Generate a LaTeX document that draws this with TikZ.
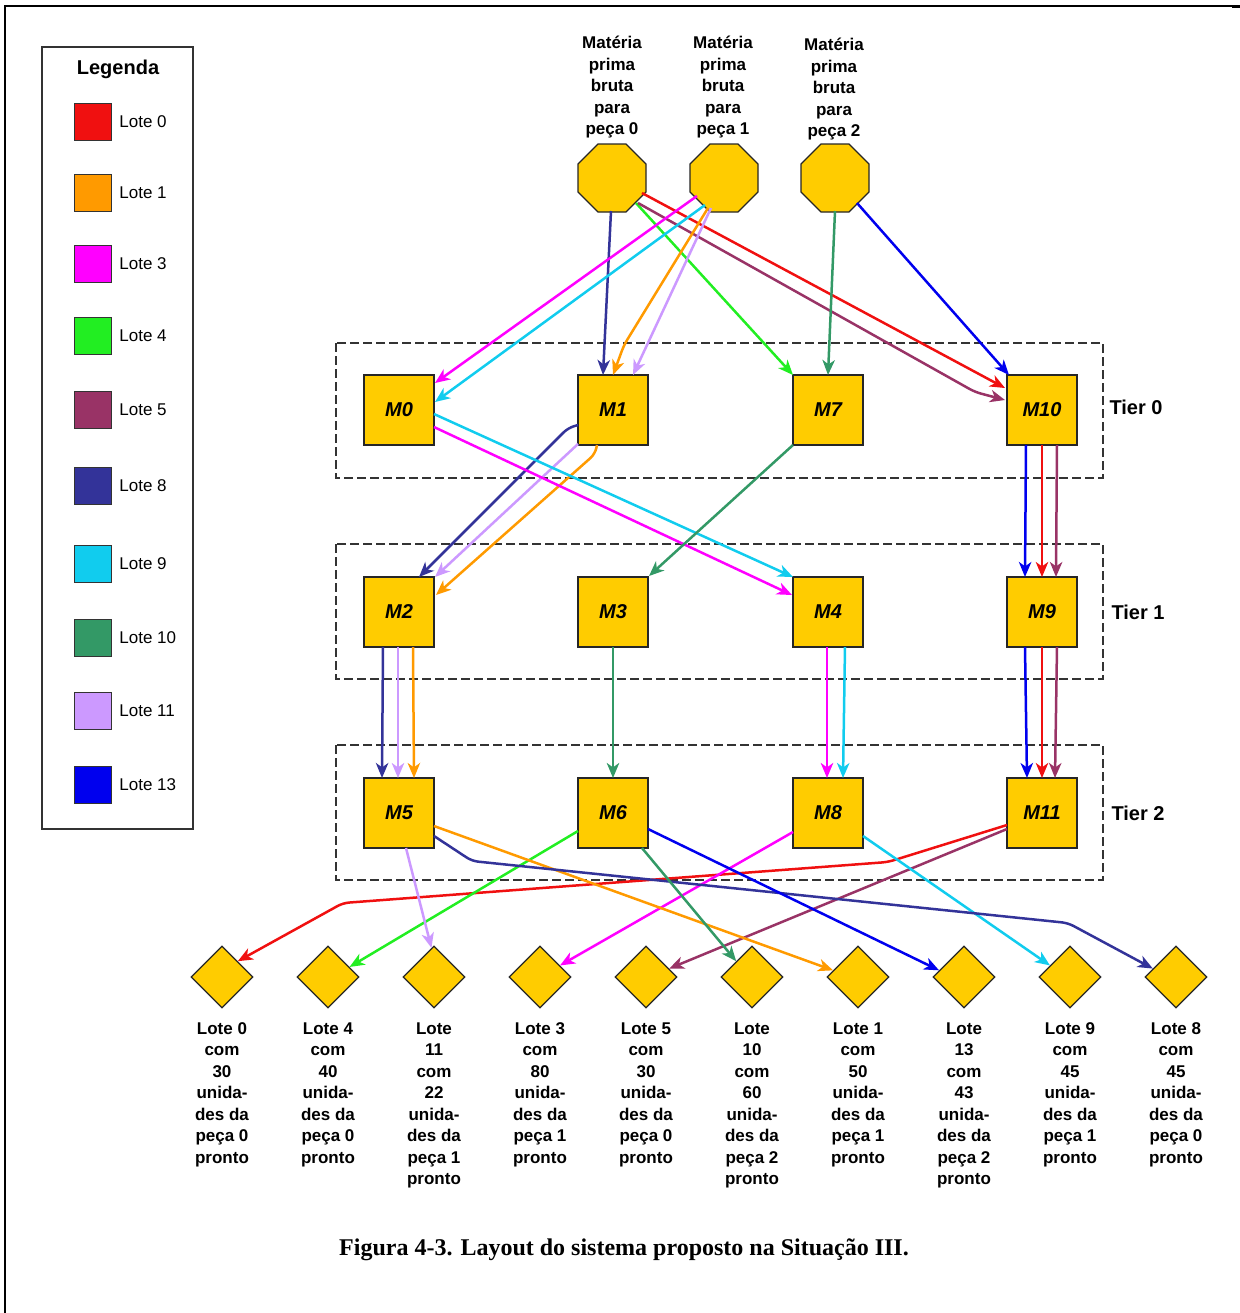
\documentclass[tikz,border=0pt]{standalone}
\usepackage{fontspec}
\setmainfont{Liberation Sans}
\newfontfamily\capfont{Liberation Serif}
\usetikzlibrary{shapes.geometric,arrows.meta,calc}

\definecolor{gold}{HTML}{FFCC00}
\definecolor{lzero}{HTML}{F01010}
\definecolor{lone}{HTML}{FF9A00}
\definecolor{lthree}{HTML}{FF00FF}
\definecolor{lfour}{HTML}{22EE22}
\definecolor{lfive}{HTML}{993366}
\definecolor{leight}{HTML}{333399}
\definecolor{lnine}{HTML}{11CCEE}
\definecolor{lten}{HTML}{339966}
\definecolor{leleven}{HTML}{CC99FF}
\definecolor{lthirteen}{HTML}{0000EE}

\begin{document}
\begin{tikzpicture}[x=0.5pt,y=-0.5pt,
  machine/.style={draw=black!85, line width=0.6pt, fill=gold, minimum size=35pt,
    inner sep=0pt, font=\fontsize{10}{12}\selectfont\bfseries\itshape},
  source/.style={draw=black!85, line width=0.6pt, fill=gold, regular polygon,
    regular polygon sides=8, minimum size=36.8pt, inner sep=0pt},
  sink/.style={draw=black!85, line width=0.6pt, fill=gold, diamond, aspect=1,
    minimum width=31pt, minimum height=31pt, inner sep=0pt},
  srclabel/.style={anchor=south, align=center, inner sep=0pt,
    font=\fontsize{8.5}{10.75}\selectfont\bfseries},
  sinklabel/.style={anchor=north, align=center, inner sep=0pt,
    font=\fontsize{8.5}{10.75}\selectfont\bfseries},
  tierbox/.style={draw=black!80, line width=0.65pt, dash pattern=on 4.5pt off 2pt},
  tierlabel/.style={font=\fontsize{10}{12}\selectfont\bfseries, inner sep=0pt},
  swatch/.style={draw=black!80, line width=0.5pt, minimum size=18.5pt, inner sep=0pt},
  legtext/.style={anchor=west, inner sep=0pt, font=\fontsize{8.5}{10}\selectfont},
  arr/.style={line width=1.25pt, rounded corners=3pt,
    -{Stealth[length=7.5pt,width=6.2pt,inset=2.2pt]}},
  c0/.style={arr, draw=lzero},
  c1/.style={arr, draw=lone},
  c3/.style={arr, draw=lthree},
  c4/.style={arr, draw=lfour},
  c5/.style={arr, draw=lfive},
  c8/.style={arr, draw=leight},
  c9/.style={arr, draw=lnine},
  c10/.style={arr, draw=lten},
  c11/.style={arr, draw=leleven},
  c13/.style={arr, draw=lthirteen}]

\useasboundingbox (0,0) rectangle (1240,1313);

% page frame
\draw[line width=0.7pt] (4,6) -- (1240,6);
\draw[line width=1.5pt] (1232,6) -- (1240,6);
\draw[line width=1.2pt] (5,5) -- (5,1313);

% legend
\draw[draw=black!80, line width=0.75pt] (42,47) rectangle (193,829);
\node[font=\fontsize{10}{12}\selectfont\bfseries] (legtitle) at (118,69) {Legenda};
\foreach \c/\y/\t in {lzero/121.5/Lote 0, lone/193/Lote 1, lthree/264/Lote 3,
  lfour/336/Lote 4, lfive/410/Lote 5, leight/486/Lote 8, lnine/564/Lote 9,
  lten/638/Lote 10, leleven/711/Lote 11, lthirteen/785/Lote 13}{
  \node[swatch, fill=\c] at (92.5,\y) {};
  \node[legtext] at (119,\y) {\t};
}

% tiers
\draw[tierbox] (336,343) rectangle (1103,478);
\draw[tierbox] (336,544) rectangle (1103,679);
\draw[tierbox] (336,745) rectangle (1103,880);
\node[tierlabel] (t0) at (1136,407) {Tier 0};
\node[tierlabel] (t1) at (1138,612) {Tier 1};
\node[tierlabel] (t2) at (1138,813) {Tier 2};

% raw material sources
\node[source] (P0) at (612,178) {};
\node[source] (P1) at (724,178) {};
\node[source] (P2) at (835,178) {};
\node[srclabel] at (612,138.6) {Matéria\\prima\\bruta\\para\\peça 0};
\node[srclabel] at (723,138.6) {Matéria\\prima\\bruta\\para\\peça 1};
\node[srclabel] at (834,140.6) {Matéria\\prima\\bruta\\para\\peça 2};

% machines
\node[machine] (M0) at (399,410) {M0};
\node[machine] (M1) at (613,410) {M1};
\node[machine] (M7) at (828,410) {M7};
\node[machine] (M10) at (1042,410) {M10};
\node[machine] (M2) at (399,612) {M2};
\node[machine] (M3) at (613,612) {M3};
\node[machine] (M4) at (828,612) {M4};
\node[machine] (M9) at (1042,612) {M9};
\node[machine] (M5) at (399,813) {M5};
\node[machine] (M6) at (613,813) {M6};
\node[machine] (M8) at (828,813) {M8};
\node[machine] (M11) at (1042,813) {M11};

% finished lots
\node[sink] (D1) at (222,977) {};
\node[sink] (D2) at (328,977) {};
\node[sink] (D3) at (434,977) {};
\node[sink] (D4) at (540,977) {};
\node[sink] (D5) at (646,977) {};
\node[sink] (D6) at (752,977) {};
\node[sink] (D7) at (858,977) {};
\node[sink] (D8) at (964,977) {};
\node[sink] (D9) at (1070,977) {};
\node[sink] (D10) at (1176,977) {};
\node[sinklabel] at (222,1022) {Lote 0\\com\\30\\unida-\\des da\\peça 0\\pronto};
\node[sinklabel] at (328,1022) {Lote 4\\com\\40\\unida-\\des da\\peça 0\\pronto};
\node[sinklabel] at (434,1022) {Lote\\11\\com\\22\\unida-\\des da\\peça 1\\pronto};
\node[sinklabel] at (540,1022) {Lote 3\\com\\80\\unida-\\des da\\peça 1\\pronto};
\node[sinklabel] at (646,1022) {Lote 5\\com\\30\\unida-\\des da\\peça 0\\pronto};
\node[sinklabel] at (752,1022) {Lote\\10\\com\\60\\unida-\\des da\\peça 2\\pronto};
\node[sinklabel] at (858,1022) {Lote 1\\com\\50\\unida-\\des da\\peça 1\\pronto};
\node[sinklabel] at (964,1022) {Lote\\13\\com\\43\\unida-\\des da\\peça 2\\pronto};
\node[sinklabel] at (1070,1022) {Lote 9\\com\\45\\unida-\\des da\\peça 1\\pronto};
\node[sinklabel] at (1176,1022) {Lote 8\\com\\45\\unida-\\des da\\peça 0\\pronto};

% sources -> tier 0
\draw[c8] ($(P0)+(-1,33)$) -- ($(M1)+(-10,-35)$);
\draw[c4] ($(P0)+(24,25)$) -- ($(M7)+(-35,-35)$);
\draw[c0] ($(P0)+(30,15)$) -- ($(M10)+(-37,-22)$);
\draw[c5] ($(P0)+(26,25)$) -- ($(M10)+(-67,-18)$) -- ($(M10)+(-37,-10)$);
\draw[c3] ($(P1)+(-27,18)$) -- ($(M0)+(36,-27)$);
\draw[c9] ($(P1)+(-19,27)$) -- ($(M0)+(36,-8)$);
\draw[c1] ($(P1)+(-16,30)$) -- ($(M1)+(11,-65)$) -- ($(M1)+(0,-35)$);
\draw[c11] ($(P1)+(-13,30)$) -- ($(M1)+(20,-35)$);
\draw[c10] ($(P2)+(0,33)$) -- ($(M7)+(0,-35)$);
\draw[c13] ($(P2)+(22,25)$) -- ($(M10)+(-33,-35)$);

% tier 0 -> tier 1
\draw[c8] ($(M1)+(-35,15)$) -- ($(M1)+(-45,18)$) -- ($(M2)+(20,-35)$);
\draw[c11] ($(M1)+(-35,34)$) -- ($(M2)+(36,-35)$);
\draw[c1] ($(M1)+(-16,35)$) -- ($(M1)+(-18,44)$) -- ($(M2)+(37,-17)$);
\draw[c3] ($(M0)+(35,17)$) -- ($(M4)+(-36,-17)$);
\draw[c9] ($(M0)+(35,4)$) -- ($(M4)+(-35,-35)$);
\draw[c10] ($(M7)+(-35,35)$) -- ($(M3)+(36,-36)$);
\draw[c13] ($(M10)+(-16,35)$) -- ($(M9)+(-17,-35)$);
\draw[c0] ($(M10)+(0,35)$) -- ($(M9)+(0,-35)$);
\draw[c5] ($(M10)+(15,35)$) -- ($(M9)+(14,-35)$);

% tier 1 -> tier 2
\draw[c8] ($(M2)+(-16,35)$) -- ($(M5)+(-17,-35)$);
\draw[c11] ($(M2)+(-1,35)$) -- ($(M5)+(-1,-35)$);
\draw[c1] ($(M2)+(14,35)$) -- ($(M5)+(15,-35)$);
\draw[c10] ($(M3)+(0,35)$) -- ($(M6)+(0,-35)$);
\draw[c3] ($(M4)+(-1,35)$) -- ($(M8)+(-1,-35)$);
\draw[c9] ($(M4)+(17,35)$) -- ($(M8)+(15,-35)$);
\draw[c13] ($(M9)+(-17,35)$) -- ($(M11)+(-15,-35)$);
\draw[c0] ($(M9)+(0,35)$) -- ($(M11)+(0,-35)$);
\draw[c5] ($(M9)+(15,35)$) -- ($(M11)+(13,-35)$);

% tier 2 -> finished lots
\draw[c0] ($(M11)+(-35,12)$) -- ($(M11)+(-154,49)$) -- ($(D1)+(121,-74)$) -- (D1.north east);
\draw[c5] ($(M11)+(-35,16)$) -- (D5.20);
\draw[c3] ($(M8)+(-35,19)$) -- (D4.30);
\draw[c9] ($(M8)+(35,23)$) -- (D9.150);
\draw[c4] ($(M6)+(-35,18)$) -- (D2.25);
\draw[c11] ($(M5)+(7,35)$) -- (D3.95);
\draw[c1] ($(M5)+(35,13)$) -- (D7.165);
\draw[c8] ($(M5)+(35,23)$) -- ($(M5)+(73,48)$) -- ($(D10)+(-108,-54)$) -- (D10.160);
\draw[c10] ($(M6)+(29,35)$) -- (D6.north west);
\draw[c13] ($(M6)+(35,16)$) -- (D8.165);

% caption
\node[font=\capfont\fontsize{12}{14}\selectfont\bfseries] (cap) at (624,1250)
  {Figura 4-3. Layout do sistema proposto na Situação III.};
\end{tikzpicture}
\end{document}
